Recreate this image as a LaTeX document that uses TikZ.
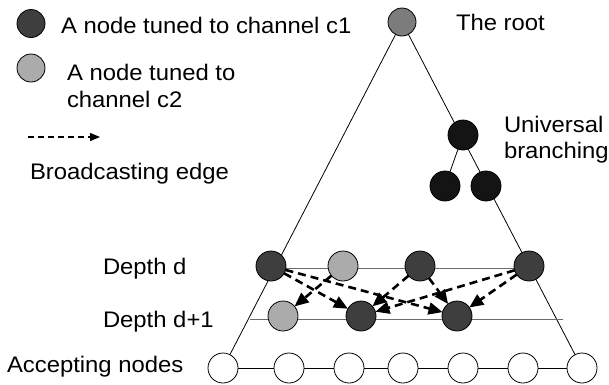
\documentclass[tikz,border=0pt]{standalone}
\usepackage{fontspec}
\setmainfont{Liberation Sans}[FakeStretch=1.06]
\usetikzlibrary{arrows.meta,backgrounds}
\definecolor{chanone}{HTML}{3E3E3E}
\definecolor{chantwo}{HTML}{ABABAB}
\definecolor{rootgray}{HTML}{7C7C7C}
\definecolor{rowgray}{HTML}{6A6A6A}
\begin{document}
\begin{tikzpicture}[x=1pt,y=-1pt,
  every node/.style={inner sep=0pt,outer sep=0pt},
  dot/.style={circle,draw=black,line width=0.8pt,minimum size=30pt},
  cone/.style={dot,fill=chanone},
  ctwo/.style={dot,fill=chantwo},
  rootdot/.style={dot,fill=rootgray,minimum size=28pt},
  unidot/.style={dot,fill=black!92,minimum size=30pt},
  accdot/.style={dot,fill=white},
  lbl/.style={anchor=base west,font=\fontsize{22.5}{27}\selectfont},
  side/.style={draw=black,line width=0.8pt},
  rowline/.style={draw=rowgray,line width=1pt},
  bcast/.style={draw=black,line width=2.6pt,dash pattern=on 8pt off 5pt,
    -{Triangle[length=14pt,width=12pt]}},
  legarrow/.style={draw=black,line width=1.2pt,dash pattern=on 6pt off 4pt,
    -{Triangle[length=10pt,width=8pt]}}]
\useasboundingbox (0,0) rectangle (609,384);

% legend
\node[cone,minimum size=28pt] (lgone) at (31,23.5) {};
\node[lbl] (lgonetxt) at (61,33) {A node tuned to channel c1};
\node[ctwo,minimum size=28pt] (lgtwo) at (31,68) {};
\node[lbl] (lgtwotxta) at (67,80) {A node tuned to};
\node[lbl] (lgtwotxtb) at (67,107) {channel c2};
\coordinate (lga) at (28,137);
\coordinate (lgb) at (100,137);
\draw[legarrow] (lga) -- (lgb);
\node[lbl] (lgedge) at (30,179) {Broadcasting edge};

% root and universal branching
\node[rootdot] (root) at (402,22) {};
\node[lbl] (roottxt) at (456,30) {The root};
\node[unidot] (uni) at (463,135) {};
\node[unidot] (unil) at (445,186) {};
\node[unidot] (unir) at (486,186) {};
\node[lbl] (unitxta) at (504,132) {Universal};
\node[lbl] (unitxtb) at (504,158) {branching};

% depth d
\node[cone] (da) at (271,266) {};
\node[ctwo] (db) at (343,266) {};
\node[cone] (dc) at (420,266) {};
\node[cone] (dd) at (529,266) {};
\node[lbl] (dtxt) at (103,274) {Depth d};

% depth d+1
\node[ctwo] (ea) at (283,316) {};
\node[cone] (eb) at (361,316) {};
\node[cone] (ec) at (457,316) {};
\node[lbl] (etxt) at (103,327) {Depth d+1};
\coordinate (erowl) at (250,319);
\coordinate (erowr) at (563,319);

% accepting nodes
\node[accdot] (acc1) at (223,368) {};
\node[accdot] (acc2) at (289,368) {};
\node[accdot] (acc3) at (349,368) {};
\node[accdot] (acc4) at (403,368) {};
\node[accdot] (acc5) at (463,368) {};
\node[accdot] (acc6) at (523,368) {};
\node[accdot] (acc7) at (582,368) {};
\node[lbl] (acctxt) at (7,372) {Accepting nodes};

\begin{scope}[on background layer]
  \draw[side] (root.center) -- (acc1.center);
  \draw[side] (root.center) -- (acc7.center);
  \draw[side] (uni.center) -- (unil.center);
  \draw[rowline] ([yshift=-2pt]da.center) -- ([yshift=-2pt]dd.center);
  \draw[rowline] (erowl) -- (erowr);
  \draw[side] (acc1.center) -- (acc7.center);
\end{scope}

% broadcasting edges
\draw[bcast] (db) -- (ea);
\draw[bcast] (da) -- (eb);
\draw[bcast] (da) -- (ec);
\draw[bcast] (dc) -- (eb);
\draw[bcast] (dc) -- (ec);
\draw[bcast] (dd) -- (eb);
\draw[bcast] (dd) -- (ec);
\end{tikzpicture}
\end{document}
